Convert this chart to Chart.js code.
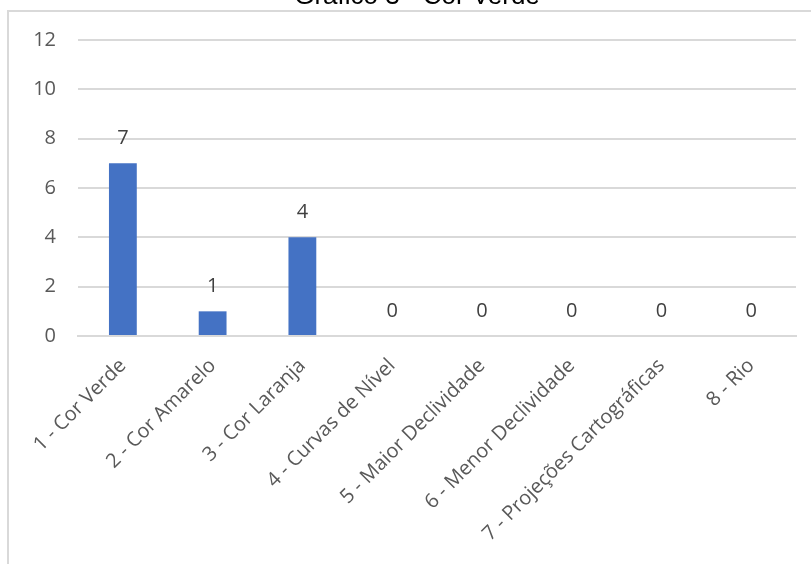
<!DOCTYPE html>
<html>
<head>
<meta charset="utf-8">
<script src="https://cdn.jsdelivr.net/npm/chart.js@4/dist/chart.umd.min.js"></script>
<style>
  html, body { margin: 0; padding: 0; background: #ffffff; }
  #wrap { position: relative; width: 811px; height: 564px; overflow: hidden; }
  #frame { position: absolute; left: 7px; top: 10px; width: 820px; height: 600px;
           border-left: 2px solid #d9d9d9; border-top: 2px solid #d9d9d9; box-sizing: border-box; }
  canvas { position: absolute; left: 0; top: 0; }
</style>
</head>
<body>
<div id="wrap">
  <div id="frame"></div>
  <canvas id="c" width="811" height="564"></canvas>
</div>
<script>
const chartTitle = 'Gráfico 3 - Cor Verde';
const categories = [
  '1 - Cor Verde',
  '2 - Cor Amarelo',
  '3 - Cor Laranja',
  '4 - Curvas de Nível',
  '5 - Maior Declividade',
  '6 - Menor Declividade',
  '7 - Projeções Cartográficas',
  '8 - Rio'
];
const counts = [7, 1, 4, 0, 0, 0, 0, 0];
const yTicks = [0, 2, 4, 6, 8, 10, 12];

const FONT = '"Open Sans", "Segoe UI", sans-serif';
const TEXT = '#595959';

// Title sits above the chart frame, partly outside the canvas
const titlePlugin = {
  id: 'topTitle',
  afterDraw(chart) {
    const ctx = chart.ctx;
    ctx.save();
    ctx.font = '26px "Liberation Sans", Arial, sans-serif';
    ctx.fillStyle = '#000000';
    ctx.textAlign = 'center';
    ctx.textBaseline = 'alphabetic';
    ctx.fillText(chartTitle, 417, 4);
    ctx.restore();
  }
};

// Value labels above each bar
const valueLabels = {
  id: 'valueLabels',
  afterDatasetsDraw(chart) {
    const ctx = chart.ctx;
    const meta = chart.getDatasetMeta(0);
    ctx.save();
    ctx.font = '20px ' + FONT;
    ctx.fillStyle = '#404040';
    ctx.textAlign = 'center';
    ctx.textBaseline = 'middle';
    meta.data.forEach((bar, i) => {
      ctx.fillText(String(counts[i]), bar.x, bar.y - 25);
    });
    ctx.restore();
  }
};

new Chart(document.getElementById('c'), {
  type: 'bar',
  data: {
    labels: categories,
    datasets: [{
      data: counts,
      backgroundColor: '#4472C4',
      borderWidth: 0,
      barPercentage: 0.31,
      categoryPercentage: 1.0
    }]
  },
  options: {
    responsive: false,
    animation: false,
    layout: { padding: { left: 0, right: 15, top: 40, bottom: 0 } },
    plugins: { legend: { display: false }, title: { display: false }, tooltip: { enabled: false } },
    scales: {
      x: {
        grid: { display: false, drawTicks: false },
        border: { display: true, color: '#d9d9d9', width: 2 },
        ticks: {
          autoSkip: false, maxRotation: 45, minRotation: 45,
          color: TEXT, font: { family: FONT, size: 20 }, padding: 18, labelOffset: 0
        },
        afterFit(axis) { axis.height = 228; }
      },
      y: {
        min: 0, max: 12,
        afterBuildTicks(axis) { axis.ticks = yTicks.map(v => ({ value: v })); },
        grid: { color: '#d9d9d9', lineWidth: 2, drawTicks: false },
        border: { display: false },
        ticks: { color: TEXT, font: { family: FONT, size: 20 }, padding: 22 },
        afterFit(axis) { axis.width = 78; }
      }
    }
  },
  plugins: [titlePlugin, valueLabels]
});
</script>
</body>
</html>
